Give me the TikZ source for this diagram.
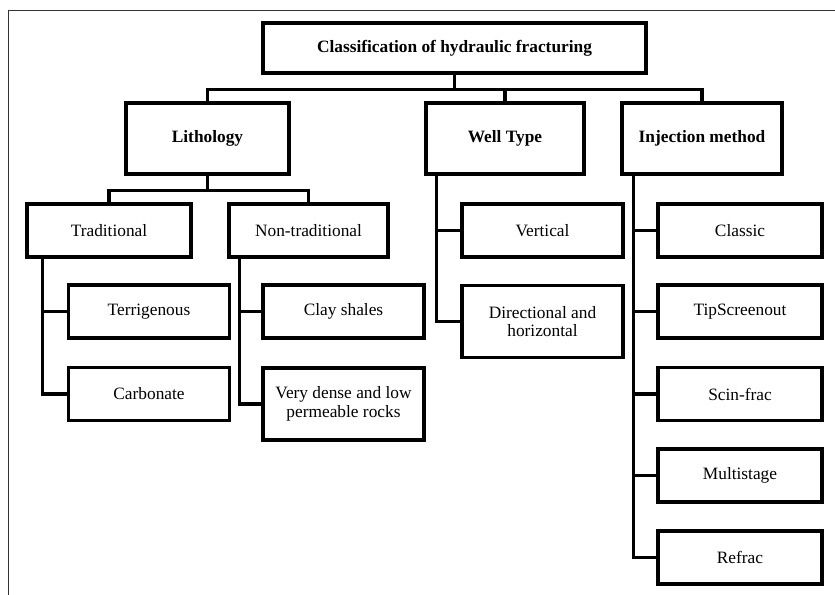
\documentclass[tikz,border=0pt]{standalone}
\usepackage{fontspec}
\setmainfont{Liberation Serif}
\usetikzlibrary{positioning}
\usetikzlibrary{calc}

\begin{document}
\begin{tikzpicture}[x=0.6pt, y=-0.6pt,
			box/.style = {
				draw, line width=1.9pt, align=center, inner sep=2pt,
				minimum width=161*0.6pt, minimum height=53*0.6pt,
				font=\fontsize{10.4}{11.3}\selectfont
			},
			head/.style = {box, minimum height=71*0.6pt, font=\fontsize{10.4}{11.3}\selectfont\bfseries},
			tall/.style = {box, minimum height=72*0.6pt},
			link/.style = {line width=1.9pt}
			]
			\useasboundingbox (0,0) rectangle (835,594);
			\draw [line width=0.6pt, black!80] (8,600) |- (840,11);
			% top
			\node (title) [head, minimum width=383*0.6pt, minimum height=50*0.6pt] at (454.5,48) {Classification of hydraulic fracturing};
			\node (litho) [head, minimum width=163*0.6pt] at (207.5,138.5) {Lithology};
			\node (well) [head, minimum width=158*0.6pt] at (505,138.5) {Well Type};
			\node (inj) [head, minimum width=160*0.6pt] at (702,138.5) {Injection method};
			% lithology
			\node (trad) [box, minimum width=164*0.6pt] at (109,230.5) {Traditional};
			\node (nontrad) [box, minimum width=159*0.6pt] at (308.5,230.5) {Non-traditional};
			\node (terr) [box] at (149,311.5) {Terrigenous};
			\node (carb) [box] at (149,394) {Carbonate};
			\node (clay) [box] at (343.5,311.5) {Clay shales};
			\node (dense) [tall] at (343.5,404) {Very dense and low\\permeable rocks};
			% well type
			\node (vert) [box] at (542.5,230.5) {Vertical};
			\node (dir) [tall] at (542.5,321.5) {Directional and\\horizontal};
			% injection method
			\node (classic) [box, minimum width=164*0.6pt] at (740,230.5) {Classic};
			\node (tip) [box, minimum width=164*0.6pt] at (740,311.5) {TipScreenout};
			\node (scin) [box, minimum width=164*0.6pt] at (740,394) {Scin-frac};
			\node (multi) [box, minimum width=164*0.6pt] at (740,475.5) {Multistage};
			\node (refrac) [box, minimum width=164*0.6pt] at (740,557.5) {Refrac};

			\draw [link] (title.south) -- ++(0,15) -| (litho.north);
			\draw [link] (title.south) -- ++(0,15) -| (well.north);
			\draw [link] (title.south) -- ++(0,15) -| (inj.north);
			\draw [link] (litho.south) -- ++(0,15) -| (trad.north);
			\draw [link] (litho.south) -- ++(0,15) -| (nontrad.north);
			\draw [link] ([xshift=17*0.6pt]trad.south west) |- (terr.west);
			\draw [link] ([xshift=17*0.6pt]trad.south west) |- (carb.west);
			\draw [link] ([xshift=12*0.6pt]nontrad.south west) |- (clay.west);
			\draw [link] ([xshift=12*0.6pt]nontrad.south west) |- (dense.west);
			\draw [link] ([xshift=12*0.6pt]well.south west) |- (vert.west);
			\draw [link] ([xshift=12*0.6pt]well.south west) |- (dir.west);
			\foreach \n in {classic, tip, scin, multi, refrac}
			\draw [link] ([xshift=13*0.6pt]inj.south west) |- (\n.west);
		\end{tikzpicture}
\end{document}
